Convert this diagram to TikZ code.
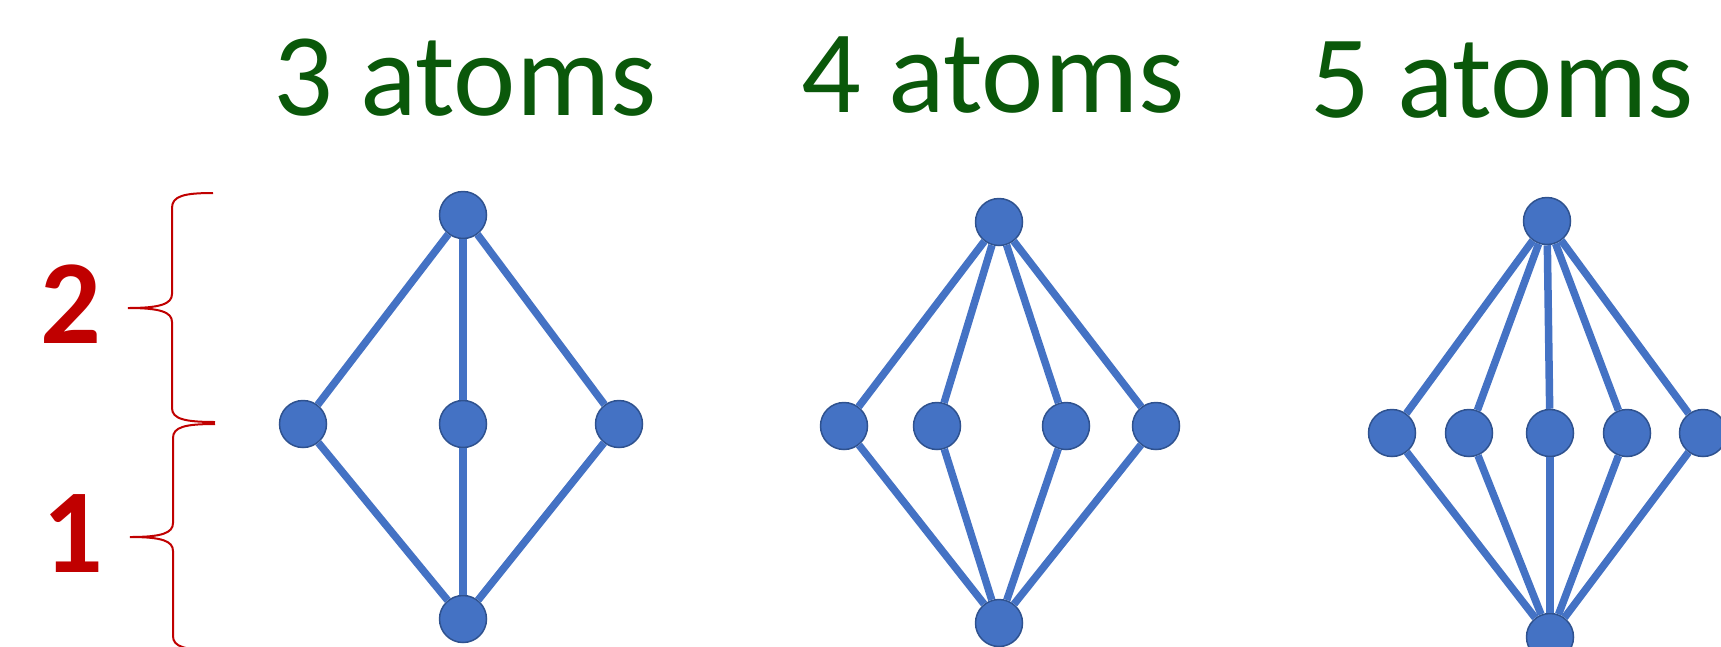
\documentclass[tikz,border=0pt]{standalone}
\usepackage{fontspec}
\setmainfont{Carlito}
\definecolor{atomblue}{HTML}{4472C4}
\definecolor{atomedge}{HTML}{2F528F}
\definecolor{titlegreen}{RGB}{10,88,10}
\definecolor{levelred}{HTML}{C00000}
\begin{document}
\begin{tikzpicture}[x=1pt,y=-1pt,
  atom/.style={circle, fill=atomblue, draw=atomedge, line width=1.5pt,
    minimum size=47pt, inner sep=0pt},
  bond/.style={atomblue, line width=7.5pt},
  title/.style={text=titlegreen, font=\fontsize{118}{140}\selectfont,
    anchor=base, inner sep=0pt},
  level/.style={text=levelred, font=\bfseries\fontsize{120}{144}\selectfont,
    anchor=base, inner sep=0pt},
  bracepath/.style={levelred, line width=2pt}]
\useasboundingbox (0,0) rectangle (1721,646);
\clip (0,0) rectangle (1721,646);

% headings
\node[title] (t3) at (465,115) {3 atoms};
\node[title] (t4) at (993,112) {4 atoms};
\node[title] (t5) at (1502,117) {5 atoms};

% level numbers
\node[level] (l2) at (71,343) {2};
\node[level] (l1) at (73,572) {1};

% braces
\draw[bracepath] (213,193) .. controls (184,193) and (172,196) .. (172,208)
  -- (172,294) .. controls (172,304) and (160,308) .. (128,308)
  .. controls (160,308) and (172,312) .. (172,322)
  -- (172,408) .. controls (172,419) and (185,422) .. (215,422);
\draw[bracepath] (215,424) .. controls (185,424) and (173,427) .. (173,438)
  -- (173,523) .. controls (173,533) and (162,537) .. (130,537)
  .. controls (162,537) and (173,541) .. (173,551)
  -- (173,636) .. controls (173,647) and (185,650) .. (215,650);

% lattice with 3 atoms
\node[atom] (a3top) at (463,215) {};
\node[atom] (a3m1) at (303,424) {};
\node[atom] (a3m2) at (463,424) {};
\node[atom] (a3m3) at (619,424) {};
\node[atom] (a3bot) at (463,619) {};
\foreach \m in {a3m1,a3m2,a3m3}{
  \draw[bond] (a3top) -- (\m);
  \draw[bond] (\m) -- (a3bot);
}

% lattice with 4 atoms
\node[atom] (a4top) at (999,222) {};
\node[atom] (a4m1) at (844,426) {};
\node[atom] (a4m2) at (937,426) {};
\node[atom] (a4m3) at (1066,426) {};
\node[atom] (a4m4) at (1156,426) {};
\node[atom] (a4bot) at (999,623) {};
\foreach \m in {a4m1,a4m2,a4m3,a4m4}{
  \draw[bond] (a4top) -- (\m);
  \draw[bond] (\m) -- (a4bot);
}

% lattice with 5 atoms
\node[atom] (a5top) at (1547,221) {};
\node[atom] (a5m1) at (1392,433) {};
\node[atom] (a5m2) at (1469,433) {};
\node[atom] (a5m3) at (1550,433) {};
\node[atom] (a5m4) at (1627,433) {};
\node[atom] (a5m5) at (1703,433) {};
\node[atom] (a5bot) at (1550,637) {};
\foreach \m in {a5m1,a5m2,a5m3,a5m4,a5m5}{
  \draw[bond] (a5top) -- (\m);
  \draw[bond] (\m) -- (a5bot);
}
\end{tikzpicture}
\end{document}
